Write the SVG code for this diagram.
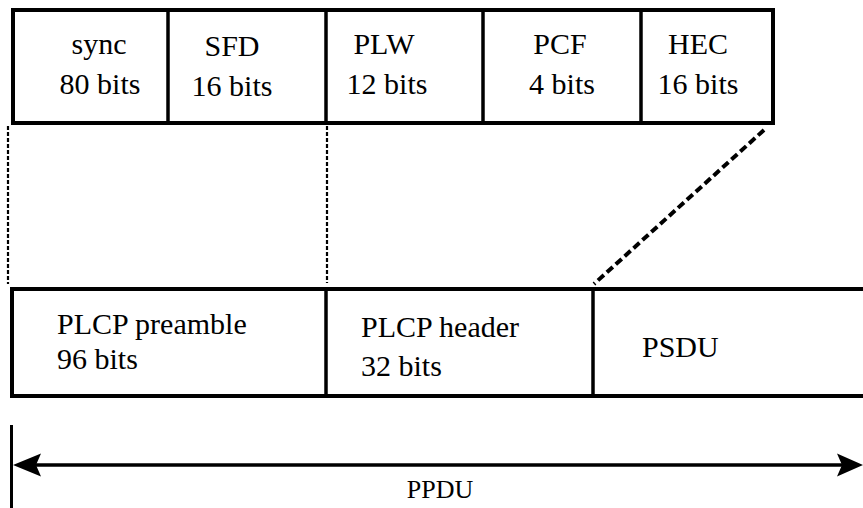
<svg xmlns="http://www.w3.org/2000/svg" width="863" height="508" viewBox="0 0 863 508">
  <style>
    .box { fill: #ffffff; stroke: #000000; stroke-width: 4; }
    .div { stroke: #000000; stroke-width: 3.5; fill: none; }
    .guide { stroke: #000000; stroke-width: 2.2; stroke-dasharray: 4 2; fill: none; }
    .guide-bold { stroke: #000000; stroke-width: 4; stroke-dasharray: 8 4; fill: none; }
    .arrow-line { stroke: #000000; stroke-width: 3.5; fill: none; }
    .head { fill: #000000; }
  </style>
  <rect width="863" height="508" fill="#ffffff"/>

  <!-- PLCP header fields -->
  <g id="header-fields">
    <rect class="box" x="13" y="10" width="760" height="113"/>
    <line class="div" x1="168" y1="10" x2="168" y2="123"/>
    <line class="div" x1="326" y1="10" x2="326" y2="123"/>
    <line class="div" x1="483" y1="10" x2="483" y2="123"/>
    <line class="div" x1="641" y1="10" x2="641" y2="123"/>
  </g>

  <g font-family="Liberation Serif, DejaVu Serif, Noto Serif, serif" font-size="30" fill="#000000">
    <g id="field-sync" text-anchor="middle">
      <text x="99" y="54">sync</text>
      <text x="100" y="94">80 bits</text>
    </g>
    <g id="field-sfd" text-anchor="middle">
      <text x="232" y="56">SFD</text>
      <text x="232" y="96">16 bits</text>
    </g>
    <g id="field-plw" text-anchor="middle">
      <text x="384" y="54">PLW</text>
      <text x="387" y="94">12 bits</text>
    </g>
    <g id="field-pcf" text-anchor="middle">
      <text x="560" y="54">PCF</text>
      <text x="562" y="94">4 bits</text>
    </g>
    <g id="field-hec" text-anchor="middle">
      <text x="698" y="54">HEC</text>
      <text x="698" y="94">16 bits</text>
    </g>
  </g>

  <!-- PPDU frame -->
  <g id="frame">
    <path class="box" d="M863,289 L12,289 L12,396 L863,396"/>
    <line class="div" x1="326" y1="289" x2="326" y2="396"/>
    <line class="div" x1="593" y1="289" x2="593" y2="396"/>
  </g>
  <g font-family="Liberation Serif, DejaVu Serif, Noto Serif, serif" font-size="30" fill="#000000">
    <g id="plcp-preamble">
      <text x="57" y="334">PLCP preamble</text>
      <text x="57" y="369">96 bits</text>
    </g>
    <g id="plcp-header">
      <text x="361" y="337">PLCP header</text>
      <text x="361" y="376">32 bits</text>
    </g>
    <g id="psdu">
      <text x="642" y="357">PSDU</text>
    </g>
  </g>

  <!-- expansion guides between the two rows -->
  <g id="connectors">
    <line class="guide" x1="8" y1="126" x2="8" y2="284"/>
    <line class="guide" x1="327" y1="126" x2="327" y2="283"/>
    <line class="guide-bold" x1="764" y1="130" x2="594" y2="284"/>
  </g>

  <!-- PPDU extent -->
  <g id="ppdu">
    <line class="div" x1="11.5" y1="425" x2="11.5" y2="508" style="stroke-width:3"/>
    <line class="arrow-line" x1="30" y1="465" x2="848" y2="465"/>
    <path class="head" d="M13,465 L41,453.5 L36,465 L41,476.5 Z"/>
    <path class="head" d="M863,465 L837,453.5 L842,465 L837,476.5 Z"/>
    <text x="440" y="498" text-anchor="middle" font-family="Liberation Serif, DejaVu Serif, Noto Serif, serif" font-size="26" fill="#000000">PPDU</text>
  </g>
</svg>
